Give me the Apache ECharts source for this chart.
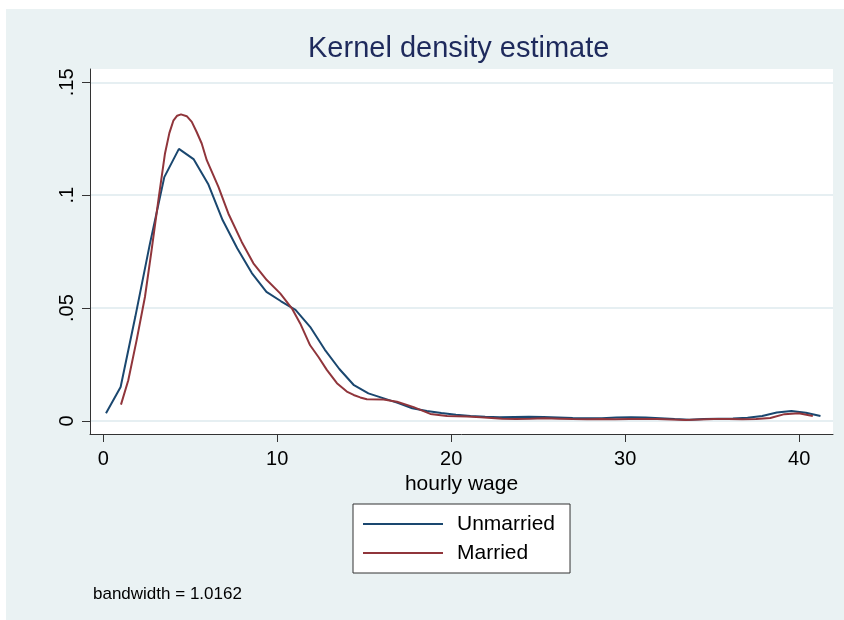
<!DOCTYPE html>
<html>
<head>
<meta charset="utf-8">
<script src="https://cdn.jsdelivr.net/npm/echarts@6/dist/echarts.min.js"></script>
<style>
html,body{margin:0;padding:0;background:#fff;width:844px;height:620px;overflow:hidden;}
#c{position:absolute;left:6px;top:9px;width:838px;height:611px;background:#EAF2F3;}
</style>
</head>
<body>
<div id="c"></div>
<script>
// ---- data ----
var unmarriedX = [0.16,1.00,1.84,2.67,3.51,4.35,5.19,6.03,6.86,7.70,8.54,9.38,10.22,11.05,11.89,12.73,13.57,14.41,15.24,16.08,16.92,17.76,18.60,19.43,20.27,21.11,21.95,22.79,23.62,24.46,25.30,26.14,26.98,27.81,28.65,29.49,30.33,31.17,32.00,32.84,33.68,34.52,35.36,36.19,37.03,37.87,38.71,39.55,40.38,41.22];
var unmarriedY = [0.0034,0.0150,0.0460,0.0780,0.1080,0.1205,0.1160,0.1050,0.0890,0.0765,0.0655,0.0572,0.0530,0.0492,0.0417,0.0316,0.0230,0.0158,0.0122,0.0101,0.0080,0.0056,0.0044,0.0035,0.0027,0.0022,0.0018,0.0016,0.0017,0.0018,0.0017,0.0015,0.0013,0.0012,0.0012,0.0015,0.0016,0.0015,0.0012,0.0008,0.0005,0.0008,0.0010,0.0011,0.0014,0.0022,0.0037,0.0044,0.0036,0.0022];
var marriedX = [1.02,1.44,1.92,2.40,2.78,3.17,3.55,3.80,4.03,4.25,4.47,4.80,5.09,5.37,5.66,5.95,6.62,7.19,7.96,8.63,9.40,10.17,10.84,11.32,11.89,12.38,12.85,13.43,14.00,14.39,14.77,15.15,16.11,16.88,17.84,18.80,19.76,20.90,21.70,22.93,23.74,24.55,25.36,26.17,26.98,27.80,28.61,29.42,30.23,31.04,31.85,32.66,33.48,34.29,35.10,35.91,36.72,37.53,38.34,39.15,39.97,40.78];
var marriedY = [0.0072,0.0180,0.0358,0.0550,0.0757,0.0978,0.1185,0.1275,0.1330,0.1352,0.1358,0.1350,0.1325,0.1280,0.1229,0.1155,0.1037,0.0919,0.0793,0.0698,0.0624,0.0565,0.0499,0.0432,0.0335,0.0282,0.0226,0.0167,0.0130,0.0115,0.0104,0.0096,0.0095,0.0085,0.0061,0.0031,0.0022,0.0020,0.0016,0.0010,0.0009,0.0010,0.0012,0.0010,0.0008,0.0007,0.0008,0.0007,0.0008,0.0009,0.0008,0.0006,0.0004,0.0006,0.0008,0.0009,0.0007,0.0008,0.0013,0.0030,0.0034,0.0022];
var seriesNames = ['Unmarried','Married'];
var xTicks = [0,10,20,30,40];
var yTicks = [0,0.05,0.1,0.15];
var yTickLabels = ['0','.05','.1','.15'];
var titleText = 'Kernel density estimate';
var xAxisTitle = 'hourly wage';
var noteText = 'bandwidth = 1.0162';

function pairs(xs, ys){ var out=[]; for(var i=0;i<xs.length;i++){ out.push([xs[i], ys[i]]); } return out; }

var FONT = '"Liberation Sans", Arial, Helvetica, sans-serif';
var chart = echarts.init(document.getElementById('c'), null, {renderer:'canvas'});
var option = {
  backgroundColor: '#EAF2F3',
  animation: false,
  textStyle: {fontFamily: FONT},
  title: {
    text: titleText,
    left: 302, top: 25,
    padding: 0,
    textStyle: {fontFamily: FONT, fontSize: 29, fontWeight: 'normal', color: '#1E2A5C'}
  },
  grid: {
    left: 84, top: 60, right: 11, bottom: 186,
    show: true, backgroundColor: '#ffffff', borderWidth: 0, containLabel: false
  },
  xAxis: {
    type: 'value', min: -0.76, max: 41.94,
    name: xAxisTitle, nameLocation: 'middle', nameGap: 36,
    nameTextStyle: {fontFamily: FONT, fontSize: 21, color: '#000'},
    axisLine: {show: true, onZero: false, lineStyle: {color: '#333', width: 1}},
    axisTick: {show: true, length: 8, customValues: xTicks, lineStyle: {color: '#333', width: 1}},
    axisLabel: {show: true, customValues: xTicks, margin: 15, fontFamily: FONT, fontSize: 20, color: '#000'},
    splitLine: {show: false}
  },
  yAxis: {
    type: 'value', min: -0.0058, max: 0.1559,
    axisLine: {show: true, onZero: false, lineStyle: {color: '#333', width: 1}},
    axisTick: {show: true, length: 8, customValues: yTicks, lineStyle: {color: '#333', width: 1}},
    axisLabel: {
      show: true, customValues: yTicks, rotate: 90, margin: 13,
      fontFamily: FONT, fontSize: 20, color: '#000',
      formatter: function(v){ for (var i=0;i<yTicks.length;i++){ if (Math.abs(yTicks[i]-v)<1e-9) return yTickLabels[i]; } return ''; }
    },
    splitLine: {show: true, lineStyle: {color: '#E6EFF2', width: 2}}
  },
  legend: {
    orient: 'vertical', left: 347, top: 495,
    padding: [9.5, 15, 9.5, 10],
    itemGap: 8, itemWidth: 80, itemHeight: 2,
    icon: 'rect',
    backgroundColor: '#ffffff', borderColor: '#333', borderWidth: 1, borderRadius: 0,
    textStyle: {fontFamily: FONT, fontSize: 21, color: '#000', lineHeight: 21, padding: [0,0,0,9]},
    data: seriesNames
  },
  graphic: [{
    type: 'text', left: 87, top: 577,
    style: {text: noteText, font: '17px ' + FONT, fill: '#000'}
  }],
  series: [
    {name: seriesNames[0], type: 'line', data: pairs(unmarriedX, unmarriedY), symbol: 'none', smooth: false,
     lineStyle: {color: '#1A476F', width: 2}, itemStyle: {color: '#1A476F'}, z: 3},
    {name: seriesNames[1], type: 'line', data: pairs(marriedX, marriedY), symbol: 'none', smooth: false,
     lineStyle: {color: '#90353B', width: 2}, itemStyle: {color: '#90353B'}, z: 4}
  ]
};
chart.setOption(option);
</script>
</body>
</html>
